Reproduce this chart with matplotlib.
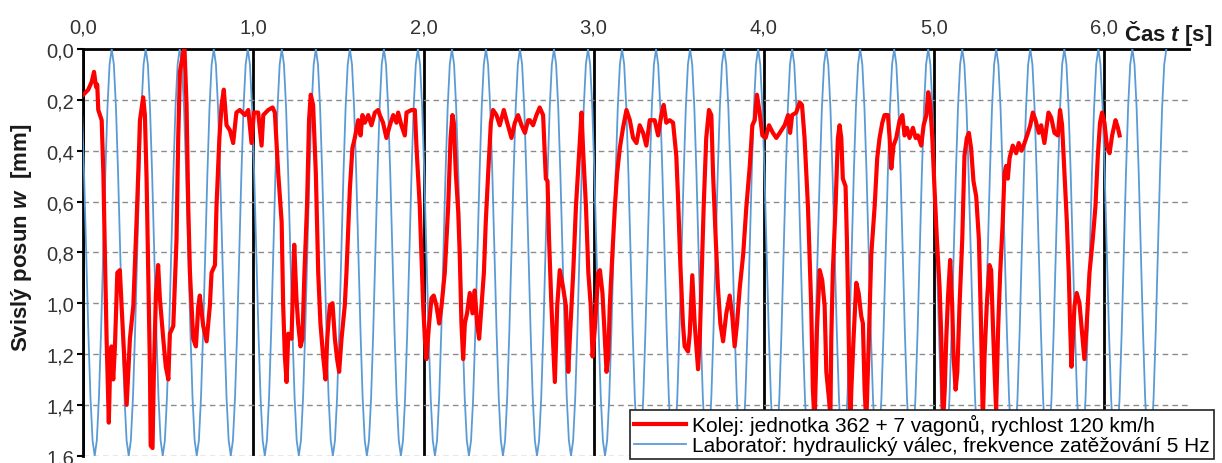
import numpy as np
import matplotlib
matplotlib.use("Agg")
import matplotlib.pyplot as plt
from matplotlib.lines import Line2D

plt.rcParams['font.family'] = ['Liberation Sans', 'DejaVu Sans']
plt.rcParams['mathtext.fontset'] = 'custom'
plt.rcParams['mathtext.rm'] = 'Liberation Sans'
plt.rcParams['mathtext.it'] = 'Liberation Sans:italic'
plt.rcParams['mathtext.bf'] = 'Liberation Sans:bold'
plt.rcParams['mathtext.bfit'] = 'Liberation Sans:italic:bold'

# ---------------- data ----------------
time_ticks = [0.0, 1.0, 2.0, 3.0, 4.0, 5.0, 6.0]
time_tick_labels = ['0,0', '1,0', '2,0', '3,0', '4,0', '5,0', '6,0']
w_ticks = [0.0, 0.2, 0.4, 0.6, 0.8, 1.0, 1.2, 1.4, 1.6]
w_tick_labels = ['0,0', '0,2', '0,4', '0,6', '0,8', '1,0', '1,2', '1,4', '1,6']

# Kolej (track) measurement, time [s] and displacement [mm]
kolej_t = [
    0.000, 0.029, 0.049, 0.063, 0.075, 0.082, 0.088, 0.108, 0.118, 0.127, 0.137, 0.143, 0.150, 0.157,
    0.166, 0.176, 0.186, 0.200, 0.215, 0.225, 0.255, 0.274, 0.294, 0.313, 0.323, 0.333, 0.352, 0.362,
    0.372, 0.382, 0.392, 0.396, 0.407, 0.415, 0.427, 0.440, 0.450, 0.470, 0.485, 0.500, 0.509, 0.529,
    0.548, 0.558, 0.568, 0.588, 0.595, 0.607, 0.617, 0.627, 0.646, 0.662, 0.676, 0.685, 0.705, 0.725,
    0.744, 0.754, 0.774, 0.783, 0.800, 0.813, 0.826, 0.842, 0.862,
    0.881, 0.900, 0.920, 0.950, 0.970, 0.989, 1.003, 1.028, 1.048, 1.058, 1.087, 1.113, 1.126, 1.146,
    1.166, 1.175, 1.185, 1.195, 1.205, 1.224, 1.240, 1.253, 1.263, 1.277, 1.288, 1.300, 1.315, 1.327,
    1.337, 1.351, 1.367, 1.381, 1.394, 1.410, 1.424, 1.434, 1.449, 1.465, 1.479, 1.492, 1.504, 1.518,
    1.537, 1.547, 1.567, 1.582, 1.596, 1.616, 1.630, 1.641, 1.655, 1.675, 1.694, 1.714, 1.733,
    1.743, 1.762, 1.782, 1.802, 1.822, 1.841, 1.851, 1.870, 1.890, 1.900, 1.929, 1.949, 1.959, 1.978,
    1.988, 1.998, 2.008, 2.017, 2.033, 2.047, 2.060, 2.076, 2.092, 2.106, 2.125, 2.145, 2.159, 2.170,
    2.178, 2.190, 2.204, 2.213, 2.223, 2.233, 2.243, 2.256, 2.272, 2.288, 2.301, 2.315, 2.327, 2.341,
    2.355, 2.366, 2.380, 2.396, 2.409, 2.429, 2.448, 2.472, 2.488, 2.517, 2.537, 2.556, 2.576, 2.596,
    2.615,
    2.625, 2.644, 2.664, 2.683, 2.703, 2.719, 2.729, 2.738, 2.752, 2.772, 2.786, 2.801, 2.821, 2.837,
    2.851, 2.860, 2.880, 2.896, 2.910, 2.929, 2.939, 2.955, 2.969, 2.983, 2.994, 3.007, 3.027, 3.037,
    3.052, 3.066, 3.076, 3.086, 3.095, 3.110, 3.125, 3.138, 3.154, 3.173, 3.193, 3.213, 3.232, 3.252,
    3.271, 3.291, 3.310, 3.330, 3.359, 3.379, 3.398, 3.412, 3.427, 3.447, 3.467, 3.486, 3.496,
    3.510, 3.525, 3.535, 3.555, 3.565, 3.580, 3.594, 3.614, 3.624, 3.633, 3.647, 3.662, 3.678, 3.692,
    3.702, 3.718, 3.731, 3.745, 3.761, 3.780, 3.800, 3.815, 3.829, 3.843, 3.859, 3.879, 3.898, 3.918,
    3.933, 3.947, 3.960, 3.976, 3.992, 4.011, 4.031, 4.054, 4.074, 4.094, 4.123, 4.143, 4.155, 4.167,
    4.191, 4.211, 4.225, 4.240, 4.260, 4.279, 4.289, 4.299, 4.313, 4.329, 4.344, 4.358, 4.368, 4.384,
    4.392, 4.397, 4.406, 4.422, 4.436, 4.446, 4.456, 4.465, 4.481, 4.489, 4.500, 4.509, 4.515, 4.528,
    4.544, 4.558, 4.573, 4.583, 4.593, 4.603, 4.618, 4.632, 4.652, 4.667, 4.681, 4.697, 4.710, 4.730,
    4.740, 4.750, 4.763, 4.779, 4.799, 4.815, 4.828, 4.842, 4.857, 4.877, 4.893, 4.906, 4.926, 4.940,
    4.956, 4.967, 4.979, 4.991, 5.004, 5.018, 5.034, 5.044, 5.054, 5.064, 5.073, 5.083, 5.096, 5.108,
    5.116, 5.128, 5.138, 5.151, 5.167, 5.180, 5.194, 5.206, 5.219, 5.233, 5.249, 5.265,
    5.278, 5.288, 5.298, 5.311, 5.327, 5.337, 5.347, 5.357, 5.366, 5.378, 5.390, 5.405, 5.415, 5.425,
    5.435, 5.445, 5.464, 5.484, 5.499, 5.516, 5.533, 5.553, 5.567, 5.582, 5.598, 5.617, 5.631, 5.650,
    5.662, 5.674, 5.690, 5.709, 5.729, 5.742, 5.754, 5.768, 5.782, 5.793, 5.801, 5.809, 5.817, 5.827,
    5.840, 5.856, 5.872, 5.885, 5.899, 5.915, 5.934, 5.950, 5.964, 5.977, 5.989, 6.003, 6.017, 6.033,
    6.048, 6.068, 6.082, 6.092,
]
kolej_w = [
    0.18, 0.16, 0.13, 0.09, 0.15, 0.14, 0.24, 0.28, 0.49, 0.81, 1.14, 1.30, 1.47, 1.27,
    1.17, 1.30, 1.17, 0.88, 0.87, 1.01, 1.40, 1.14, 1.01, 0.68, 0.49, 0.28, 0.19, 0.26,
    0.51, 0.88, 1.27, 1.56, 1.57, 1.27, 0.96, 0.85, 0.98, 1.14, 1.25, 1.30, 1.12, 1.09,
    0.75, 0.35, 0.09, 0.01, 0.00, 0.22, 0.62, 0.88, 1.14, 1.17, 1.01, 0.97, 1.09, 1.15,
    1.01, 0.88, 0.85, 0.62, 0.35, 0.22, 0.16, 0.30, 0.32,
    0.37, 0.25, 0.24, 0.26, 0.24, 0.37, 0.25, 0.25, 0.38, 0.26, 0.24, 0.23, 0.25, 0.49,
    0.68, 1.01, 1.21, 1.31, 1.12, 1.14, 0.77, 0.98, 1.08, 1.17, 1.14, 0.88, 0.62, 0.28,
    0.18, 0.22, 0.49, 0.88, 1.08, 1.21, 1.30, 1.14, 1.01, 1.00, 1.14, 1.22, 1.27, 1.14,
    1.01, 0.88, 0.55, 0.39, 0.35, 0.28, 0.34, 0.26, 0.29, 0.26, 0.30, 0.25, 0.24,
    0.26, 0.29, 0.35, 0.30, 0.26, 0.29, 0.25, 0.30, 0.34, 0.25, 0.24, 0.24, 0.39, 0.62,
    0.81, 1.01, 1.14, 1.22, 1.08, 0.98, 0.97, 1.01, 1.08, 1.01, 0.88, 0.62, 0.35, 0.26,
    0.29, 0.49, 0.64, 0.81, 1.08, 1.22, 1.08, 1.04, 0.96, 1.04, 0.95, 1.08, 1.14, 1.01,
    0.88, 0.68, 0.49, 0.29, 0.24, 0.26, 0.30, 0.24, 0.28, 0.35, 0.29, 0.26, 0.30, 0.33,
    0.28,
    0.28, 0.30, 0.26, 0.23, 0.26, 0.51, 0.52, 0.75, 1.01, 1.31, 1.01, 0.87, 0.94, 1.01,
    1.27, 1.14, 0.88, 0.62, 0.46, 0.25, 0.41, 0.62, 0.88, 1.01, 1.21, 1.10, 0.88, 0.87,
    0.96, 1.14, 1.27, 1.21, 1.01, 0.81, 0.62, 0.49, 0.39, 0.31, 0.24, 0.28, 0.35, 0.37,
    0.30, 0.33, 0.38, 0.28, 0.28, 0.34, 0.26, 0.22, 0.29, 0.28, 0.29, 0.42, 0.58,
    0.85, 1.08, 1.17, 1.19, 1.12, 0.89, 1.08, 1.26, 1.14, 0.94, 0.62, 0.35, 0.24, 0.26,
    0.49, 0.75, 0.94, 1.08, 1.15, 1.04, 0.97, 1.05, 1.17, 1.08, 0.94, 0.81, 0.62, 0.46,
    0.30, 0.28, 0.18, 0.25, 0.34, 0.35, 0.30, 0.33, 0.35, 0.33, 0.30, 0.26, 0.33, 0.26,
    0.25, 0.21, 0.22, 0.35, 0.62, 1.01, 1.34, 1.48, 1.10, 0.87, 0.91, 1.01, 1.27, 1.38,
    1.45, 1.14, 0.88, 0.62, 0.35, 0.30, 0.35, 0.51, 0.54, 0.75, 1.14, 1.48, 1.34, 1.14,
    0.92, 0.96, 1.05, 1.08, 1.34, 1.47, 1.14, 0.81, 0.62, 0.43, 0.35, 0.29, 0.26, 0.26,
    0.35, 0.47, 0.38, 0.35, 0.28, 0.26, 0.34, 0.31, 0.35, 0.31, 0.35, 0.34, 0.38, 0.30,
    0.26, 0.17, 0.22, 0.35, 0.55, 0.75, 0.94, 1.14, 1.47, 1.34, 1.14, 0.98, 0.83, 1.01,
    1.21, 1.34, 1.27, 1.01, 0.75, 0.42, 0.35, 0.33, 0.39, 0.52, 0.58, 0.75,
    1.10, 1.47, 1.21, 1.01, 0.85, 0.87, 1.08, 1.27, 1.42, 1.10, 0.88, 0.68, 0.49, 0.46,
    0.51, 0.43, 0.38, 0.41, 0.37, 0.40, 0.37, 0.33, 0.30, 0.25, 0.28, 0.33, 0.30, 0.37,
    0.31, 0.25, 0.27, 0.33, 0.34, 0.24, 0.30, 0.49, 0.68, 0.88, 1.08, 1.25, 1.14, 1.01,
    0.96, 1.00, 1.12, 1.22, 1.08, 0.88, 0.75, 0.62, 0.42, 0.29, 0.25, 0.29, 0.38, 0.41,
    0.34, 0.28, 0.31, 0.34,
]

# Laboratoř (hydraulic cylinder, 5 Hz): one loading cycle (16 samples/cycle)
lab_cycle_w = [0.00, 0.06, 0.23, 0.49, 0.80, 1.11, 1.37, 1.54,
               1.60, 1.54, 1.37, 1.11, 0.80, 0.49, 0.23, 0.06]
lab_first_peak_t = -0.033
lab_last_peak_t = 6.367
lab_freq_hz = 5.0

label_kolej = 'Kolej: jednotka 362 + 7 vagonů, rychlost 120 km/h'
label_lab = 'Laboratoř: hydraulický válec, frekvence zatěžování 5 Hz'

# build laboratory series by repeating the read cycle
n_cycles = int(round((lab_last_peak_t - lab_first_peak_t) * lab_freq_hz))
lab_w = list(np.tile(lab_cycle_w, n_cycles)) + [lab_cycle_w[0]]
lab_dt = 1.0 / (lab_freq_hz * len(lab_cycle_w))
lab_t = lab_first_peak_t + np.arange(len(lab_w)) * lab_dt

# ---------------- figure ----------------
W, H = 1222, 464
fig = plt.figure(figsize=(W / 100, H / 100), dpi=100)
x0, x1, y0, y1 = 83.3, 1189.0, 50.0, 456.7
ax = fig.add_axes([x0 / W, 1 - y1 / H, (x1 - x0) / W, (y1 - y0) / H])

blue = '#5B9BD5'
red = '#FF0000'
ax.plot(lab_t, lab_w, color=blue, lw=1.3, zorder=3)
ax.plot(kolej_t, kolej_w, color=red, lw=3.0, zorder=4, solid_joinstyle='round')

ax.set_xlim(0, 6.5)
ax.set_ylim(1.6, 0.0)

ax.xaxis.tick_top()
ax.set_xticks(time_ticks)
ax.set_xticklabels(time_tick_labels)
ax.set_yticks(w_ticks)
ax.set_yticklabels(w_tick_labels)
ax.tick_params(axis='x', length=0, pad=9, labelsize=14.5, colors='#333333')
ax.tick_params(axis='y', length=4.5, width=1.5, direction='out', pad=2, labelsize=14.5,
               colors='#333333', color='black')

ax.xaxis.grid(True, color='black', lw=2.0, ls='-')
ax.yaxis.grid(True, color='#8c8c8c', lw=1.0, ls=(0, (4, 3)))

for s in ['right', 'bottom']:
    ax.spines[s].set_visible(False)
for s in ['top', 'left']:
    ax.spines[s].set_color('black')
    ax.spines[s].set_linewidth(2.0)

handles = [Line2D([], [], color=red, lw=3.0), Line2D([], [], color=blue, lw=1.3)]
leg = ax.legend(handles, [label_kolej, label_lab], loc='lower right',
                bbox_to_anchor=((1214 - x0) / (x1 - x0), (y1 - 460) / (y1 - y0)),
                borderaxespad=0, fontsize=15, frameon=True, fancybox=False,
                framealpha=1, edgecolor='#222222', handlelength=2.5, handletextpad=0.3,
                labelspacing=0.02, borderpad=0.2)
leg.get_frame().set_linewidth(1.2)
leg.set_zorder(10)

fig.text(1124 / W, 1 - 34 / H, r'Čas $\mathbfit{t}$ [s]', fontsize=16, fontweight='bold',
         ha='left', va='center', color='#1a1a1a')
fig.text(22 / W, 1 - 238 / H, r'Svislý posun $\mathbfit{w}$  [mm]', fontsize=16,
         fontweight='bold', rotation=90, ha='center', va='center', color='#1a1a1a')

fig.savefig('out.png', dpi=100)
